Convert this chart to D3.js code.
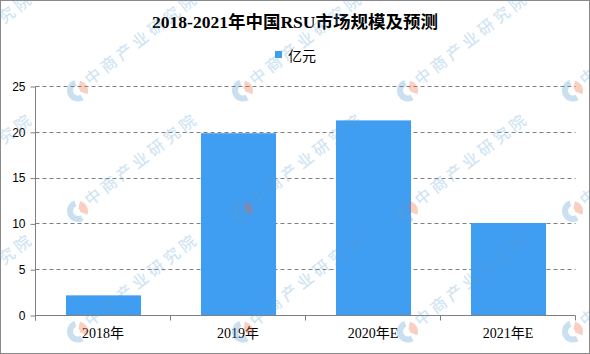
<!DOCTYPE html>
<html>
<head>
<meta charset="utf-8">
<script src="https://cdn.jsdelivr.net/npm/d3@7"></script>
<style>
  html, body { margin: 0; padding: 0; background: #fff; }
  svg { display: block; }
</style>
</head>
<body>
<svg id="chart" width="590" height="354"></svg>
<script>
// ---- data ----
const title = "2018-2021年中国RSU市场规模及预测";
const seriesName = "亿元";
const categories = ["2018年", "2019年", "2020年E", "2021年E"];
const values = [2.2, 19.9, 21.3, 10.1];
const yTicks = [0, 5, 10, 15, 20, 25];
const watermarkText = "中商产业研究院";

(function () {
// ---- layout ----
const W = 590, H = 354;
const pLeft = 35.5, pRight = 575.5, pTop = 86.5, pBottom = 315.5;
const barColor = "#3f9df2";
const axisColor = "#808080";

const svg = d3.select("#chart");

svg.append("rect").attr("x", 0.5).attr("y", 0.5).attr("width", W - 1).attr("height", H - 1)
  .attr("fill", "#fff").attr("stroke", "#8a8a8a").attr("stroke-width", 1);

const x = d3.scaleBand().domain(categories).range([pLeft, pRight]).paddingInner(0).paddingOuter(0);
const y = d3.scaleLinear().domain([0, 25]).range([pBottom, pTop]);

// gridlines
svg.append("g").selectAll("line").data(yTicks.filter(d => d > 0)).join("line")
  .attr("x1", pLeft).attr("x2", pRight)
  .attr("y1", d => Math.round(y(d) - 0.5) + 0.5).attr("y2", d => Math.round(y(d) - 0.5) + 0.5)
  .attr("stroke", axisColor).attr("stroke-width", 1).attr("stroke-dasharray", "4,3");

// bars
const barW = x.bandwidth() * 0.556;
svg.append("g").selectAll("rect").data(categories).join("rect")
  .attr("x", d => x(d) + x.bandwidth() / 2 - barW / 2 + 0.5)
  .attr("width", barW)
  .attr("y", (d, i) => y(values[i]))
  .attr("height", (d, i) => pBottom - y(values[i]))
  .attr("fill", barColor);

// y axis
const yAxis = d3.axisLeft(y).tickValues(yTicks).tickSize(5).tickPadding(5).tickFormat(d3.format("d"));
const gy = svg.append("g").attr("transform", `translate(${pLeft},0)`).call(yAxis);
gy.select(".domain").attr("stroke", axisColor).attr("d", `M0,${pTop}V${pBottom + 5}`);
gy.selectAll(".tick line").attr("stroke", axisColor);
gy.selectAll(".tick text").attr("fill", "#000")
  .style("font-family", "'Liberation Sans', Arial, sans-serif").style("font-size", "12px");

// x axis (ticks at band boundaries)
const gx = svg.append("g");
gx.append("line").attr("x1", pLeft).attr("x2", pRight).attr("y1", pBottom).attr("y2", pBottom)
  .attr("stroke", axisColor);
const bounds = categories.map(c => x(c)).concat([x(categories[categories.length - 1]) + x.bandwidth()]);
gx.selectAll("line.tk").data(bounds).join("line").attr("class", "tk")
  .attr("x1", d => d).attr("x2", d => d).attr("y1", pBottom).attr("y2", pBottom + 5)
  .attr("stroke", axisColor);
gx.selectAll("text").data(categories).join("text")
  .attr("x", d => x(d) + x.bandwidth() / 2)
  .attr("y", 333)
  .attr("text-anchor", "middle").attr("dominant-baseline", "central")
  .attr("fill", "#000")
  .style("font-family", "'Liberation Serif', 'Noto Sans CJK SC', serif").style("font-size", "14px")
  .text(d => d);

// title
svg.append("text").attr("x", 295).attr("y", 22).attr("text-anchor", "middle")
  .attr("dominant-baseline", "central").attr("fill", "#000")
  .style("font-family", "'Liberation Serif', 'Noto Sans CJK SC', serif")
  .style("font-size", "17.5px").style("font-weight", "bold")
  .text(title);

// legend
svg.append("rect").attr("x", 275).attr("y", 51).attr("width", 7).attr("height", 7).attr("fill", barColor);
svg.append("text").attr("x", 288).attr("y", 55).attr("dominant-baseline", "central").attr("fill", "#000")
  .style("font-family", "'Noto Sans CJK SC', sans-serif").style("font-size", "14px")
  .text(seriesName);

// watermarks
const wm = svg.append("g").style("pointer-events", "none");
const wmCols = d3.range(-87, 700, 165);
const wmRows = d3.range(-30, 460, 120.5);
const blueArc = d3.arc().innerRadius(5).outerRadius(11).startAngle(2.6).endAngle(5.95);
const orangeArc = d3.arc().innerRadius(2).outerRadius(10).startAngle(0.2).endAngle(1.95);
wmRows.forEach(ry => {
  wmCols.forEach(cx => {
    const g = wm.append("g").attr("transform", `translate(${cx},${ry})`);
    g.append("path").attr("d", blueArc()).attr("fill", "#5a9fd4").attr("opacity", 0.32);
    g.append("path").attr("d", orangeArc()).attr("fill", "#ec6a3e").attr("opacity", 0.32);
    g.append("text").attr("transform", "translate(8,-10) rotate(-38)")
      .attr("dominant-baseline", "central")
      .attr("fill", "#5a9fd4").attr("opacity", 0.27)
      .style("font-family", "'Noto Sans CJK SC', sans-serif")
      .style("font-size", "16px").style("font-weight", "500")
      .style("letter-spacing", "4px")
      .text(watermarkText);
  });
});
})();
</script>
</body>
</html>
